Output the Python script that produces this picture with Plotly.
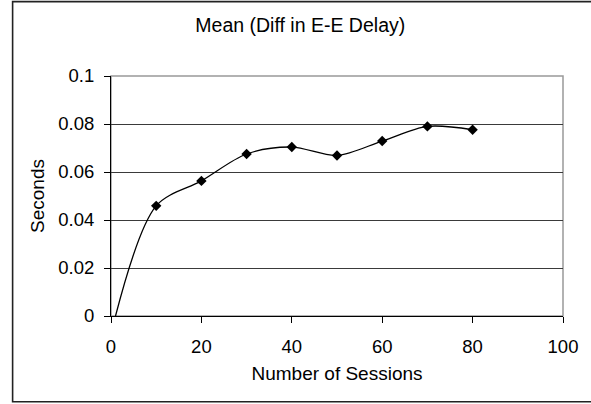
import plotly.graph_objects as go

sessions = [1, 10, 20, 30, 40, 50, 60, 70, 80]
mean_diff = [0.0, 0.0459, 0.0563, 0.0675, 0.0704, 0.0669, 0.0729, 0.0790, 0.0776]

title_text = "Mean (Diff in E-E Delay)"
x_title = "Number of Sessions"
y_title = "Seconds"
x_ticks = [0, 20, 40, 60, 80, 100]
y_ticks = [0, 0.02, 0.04, 0.06, 0.08, 0.1]
y_tick_labels = ["0", "0.02", "0.04", "0.06", "0.08", "0.1"]

W, H = 591, 404
ml, mr, mt, mb = 110.5, 28, 75.5, 88
pw, ph = W - ml - mr, H - mt - mb

def px_x(p):
    return (p - ml) / pw

def px_y(p):
    return (H - mb - p) / ph

font = "Liberation Sans, Arial, sans-serif"

fig = go.Figure()
fig.add_trace(go.Scatter(
    x=sessions, y=mean_diff, mode="lines",
    line=dict(color="black", width=1.3, shape="spline", smoothing=0.9),
    showlegend=False, hoverinfo="skip",
))
fig.add_trace(go.Scatter(
    x=sessions[1:], y=mean_diff[1:], mode="markers",
    marker=dict(symbol="diamond", size=8, color="black"),
    showlegend=False,
))

fig.update_layout(
    width=W, height=H,
    margin=dict(l=ml, r=mr, t=mt, b=mb),
    paper_bgcolor="white", plot_bgcolor="white",
    font=dict(family=font, color="black", size=18),
    title=dict(text=title_text, x=px_x(300), xref="paper", xanchor="center",
               y=1 - 25 / H, yref="container", yanchor="middle",
               font=dict(size=19.5, family=font, color="black")),
    xaxis=dict(range=[0, 100], tickvals=x_ticks, ticks="outside", ticklen=6,
               tickcolor="black", showline=True, linecolor="black", linewidth=1,
               showgrid=False, zeroline=False, ticklabelstandoff=8,
               tickfont=dict(size=18.5),
               title=dict(text=x_title, font=dict(size=19), standoff=10)),
    yaxis=dict(range=[0, 0.1], tickvals=y_ticks, ticktext=y_tick_labels,
               ticks="outside", ticklen=6, tickcolor="black",
               showline=True, linecolor="black", linewidth=1,
               showgrid=True, gridcolor="#3a3a3a", gridwidth=1, zeroline=False,
               ticklabelstandoff=6, tickfont=dict(size=18.5),
               title=dict(text=y_title, font=dict(size=19), standoff=8)),
    shapes=[
        dict(type="rect", xref="paper", yref="paper", x0=0, x1=1, y0=0, y1=1,
             line=dict(color="#999999", width=1.5), layer="below"),
        dict(type="rect", xref="paper", yref="paper",
             x0=px_x(12), x1=px_x(610), y0=px_y(402), y1=px_y(1),
             line=dict(color="#222222", width=1.6)),
    ],
)

fig.write_html("out.html", config={"displayModeBar": False},
               post_script="document.body.style.margin='0';document.body.style.overflow='hidden';")
